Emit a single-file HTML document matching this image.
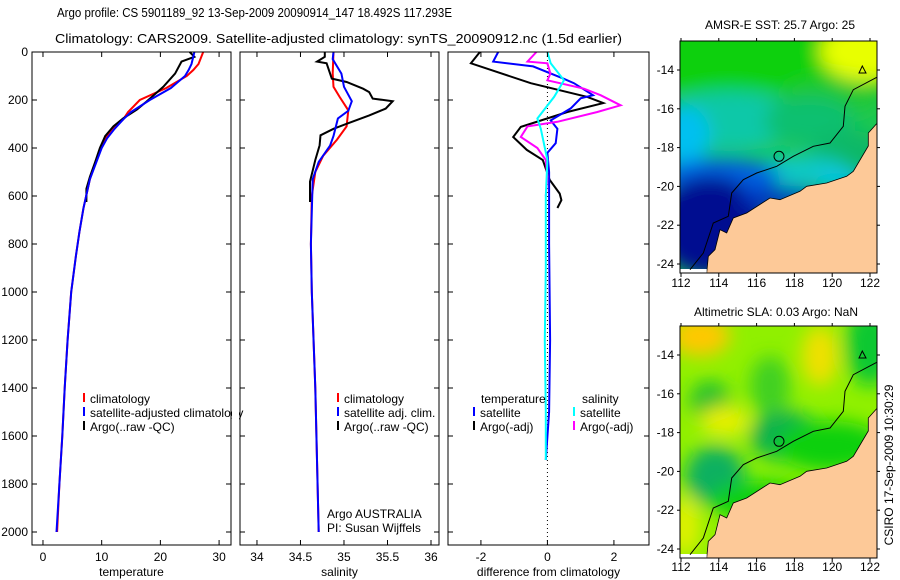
<!DOCTYPE html>
<html><head><meta charset="utf-8"><style>
html,body{margin:0;padding:0;background:#fff;}
svg{display:block;font-family:"Liberation Sans",sans-serif;}
</style></head><body>
<svg id="fig" width="900" height="580" viewBox="0 0 900 580" xmlns="http://www.w3.org/2000/svg">
<defs>
<filter id="blur" x="-50%" y="-50%" width="200%" height="200%"><feGaussianBlur stdDeviation="9"/></filter>
<clipPath id="mapclip"><rect x="0" y="0" width="197" height="232"/></clipPath>
</defs>
<text x="57" y="17" font-size="13" textLength="395" lengthAdjust="spacingAndGlyphs">Argo profile: CS 5901189_92 13-Sep-2009 20090914_147 18.492S 117.293E</text>
<text x="55" y="43" font-size="13" textLength="567" lengthAdjust="spacingAndGlyphs">Climatology: CARS2009. Satellite-adjusted climatology: synTS_20090912.nc (1.5d earlier)</text>
<g id="plots"></g>

<!-- SST map -->
<g transform="translate(680,41)">
  <g clip-path="url(#mapclip)">
    <rect width="197" height="232" fill="#1ec850"/>
    <g filter="url(#blur)">
      <rect x="-20" y="-20" width="240" height="70" fill="#10d010"/>
      <ellipse cx="185" cy="10" rx="45" ry="30" fill="#e8ff00"/>
      <ellipse cx="150" cy="55" rx="50" ry="18" fill="#20c830"/>
      <ellipse cx="50" cy="80" rx="70" ry="30" fill="#10c8a8"/>
      <ellipse cx="5" cy="95" rx="25" ry="30" fill="#00c0f0"/>
      <ellipse cx="130" cy="80" rx="45" ry="25" fill="#10c070"/>
      <ellipse cx="170" cy="115" rx="40" ry="25" fill="#10b868"/>
      <ellipse cx="120" cy="130" rx="50" ry="15" fill="#10c8c8"/>
      <ellipse cx="40" cy="135" rx="60" ry="18" fill="#0060e0"/>
      <ellipse cx="30" cy="185" rx="55" ry="50" fill="#000a90"/>
      <ellipse cx="100" cy="158" rx="40" ry="12" fill="#0030c0"/>
      <ellipse cx="160" cy="140" rx="25" ry="8" fill="#00c0f0"/>
    </g>
    <polygon fill="#fdc998" points="197.3,82 188.3,92 188.3,105 180,119 173.3,130.3 166.7,135.3 146.7,142 126.7,145.3 120,150.3 100,158.7 90,157 66.7,172 53.3,177 46.7,192 40,188.7 35,208.7 28.3,215.3 26.7,232 197,232" stroke="#000" stroke-width="0.8"/>
    <rect x="0" y="228" width="26.7" height="4" fill="#fff"/>
    <polyline fill="none" stroke="#000" stroke-width="1" points="197.3,36 173.3,48.7 165,65.3 163.3,85.3 150,102 133.3,105.3 113.3,115.3 96.7,125.3 76.7,132 63.3,138.7 51.7,152 48.3,175.3 33.3,182 23.3,212 10,228.7"/>
    <circle cx="99" cy="115.3" r="5" fill="none" stroke="#000"/>
    <polygon points="182.3,25 179,32 186,32" fill="none" stroke="#000"/>
  </g>
  <rect width="197" height="232" fill="none" stroke="#000"/>
</g>
<text x="780" y="29" font-size="12" text-anchor="middle">AMSR-E SST: 25.7 Argo: 25</text>

<!-- SLA map -->
<g transform="translate(680,326)">
  <g clip-path="url(#mapclip)">
    <rect width="197" height="232" fill="#90f000"/>
    <g filter="url(#blur)">
      <ellipse cx="20" cy="10" rx="30" ry="20" fill="#ffc800"/>
      <ellipse cx="140" cy="30" rx="18" ry="30" fill="#f0e000"/>
      <ellipse cx="190" cy="20" rx="25" ry="40" fill="#10c830"/>
      <ellipse cx="30" cy="75" rx="20" ry="20" fill="#20c030"/>
      <ellipse cx="90" cy="60" rx="20" ry="30" fill="#40d020"/>
      <ellipse cx="105" cy="110" rx="35" ry="25" fill="#10b050"/>
      <ellipse cx="35" cy="150" rx="30" ry="30" fill="#10b060"/>
      <ellipse cx="45" cy="95" rx="25" ry="15" fill="#e8f000"/>
      <ellipse cx="150" cy="120" rx="55" ry="25" fill="#10d010"/>
      <ellipse cx="80" cy="175" rx="50" ry="20" fill="#10d010"/>
      <ellipse cx="5" cy="200" rx="15" ry="30" fill="#e0f000"/>
    </g>
    <polygon fill="#fdc998" points="197.3,82 188.3,92 188.3,105 180,119 173.3,130.3 166.7,135.3 146.7,142 126.7,145.3 120,150.3 100,158.7 90,157 66.7,172 53.3,177 46.7,192 40,188.7 35,208.7 28.3,215.3 26.7,232 197,232" stroke="#000" stroke-width="0.8"/>
    <rect x="0" y="228" width="26.7" height="4" fill="#fff"/>
    <polyline fill="none" stroke="#000" stroke-width="1" points="197.3,36 173.3,48.7 165,65.3 163.3,85.3 150,102 133.3,105.3 113.3,115.3 96.7,125.3 76.7,132 63.3,138.7 51.7,152 48.3,175.3 33.3,182 23.3,212 10,228.7"/>
    <circle cx="99" cy="115.3" r="5" fill="none" stroke="#000"/>
    <polygon points="182.3,25 179,32 186,32" fill="none" stroke="#000"/>
  </g>
  <rect width="197" height="232" fill="none" stroke="#000"/>
</g>
<text x="776" y="316" font-size="12" text-anchor="middle">Altimetric SLA: 0.03 Argo: NaN</text>
<text transform="translate(893,465) rotate(-90)" font-size="12" text-anchor="middle">CSIRO 17-Sep-2009 10:30:29</text>
<g id="mapaxes"></g>
</svg>
<script>
const NS="http://www.w3.org/2000/svg";
// ---- data ----
const tClimDepth=[0,50,75,100,150,200,250,280,320,360,400,530,650,750,850,1000,1200,1400,1600,1800,2000];
const tClim=[27.3,26.5,25.6,24.5,21,16.5,14.5,13.7,11.8,10.6,9.8,8,6.9,6.2,5.6,4.8,4.2,3.7,3.3,2.8,2.4];
const tSat=[25.8,25.3,24.8,24.2,21.8,18.2,15,13.7,12.2,10.9,10,8,6.9,6.2,5.6,4.8,4.2,3.7,3.3,2.8,2.3];
const tArgoDepth=[0,20,40,90,145,205,240,276,310,350,400,458,520,570,625];
const tArgo=[25,25.8,23.6,22.5,20.5,17.7,16,13.7,12,10.6,9.7,8.9,8,7.4,7.4];
const sClimDepth=[0,90,145,187,243,310,365,433,500,600,800,1000,1400,1700,2000];
const sClim=[34.88,34.87,34.88,34.95,35.05,35.03,34.92,34.76,34.67,34.63,34.62,34.63,34.67,34.69,34.71];
const sSatDepth=[0,30,90,145,205,245,277,320,350,390,458,530,800,1000,1400,1700,2000];
const sSat=[34.88,34.87,34.97,35.0,35.09,35.05,34.93,34.9,34.88,34.84,34.71,34.64,34.62,34.63,34.67,34.69,34.71];
const sArgoDepth=[0,20,40,47,111,125,153,167,194,205,236,264,299,320,347,389,450,540,625];
const sArgo=[34.78,34.78,34.69,34.8,34.86,35.03,35.22,35.29,35.33,35.56,35.48,35.29,35.03,34.88,34.73,34.72,34.67,34.61,34.61];
const dTArgoDepth=[0,47,130,187,213,250,312,354,408,450,533,590,617,650];
const dTArgo=[-2.03,-2.3,-0.5,1.2,1.68,0.6,-0.8,-1.03,-0.62,-0.14,0.07,0.37,0.42,0.3];
const dTSatDepth=[0,40,60,110,130,180,193,235,285,320,380,420,500,800,1200,1500,1700];
const dTSat=[-1.48,-1.63,-0.43,0.47,0.8,1.37,1.0,0.7,0.1,0.3,0.25,0.0,0.05,0.05,0.08,0.05,-0.05];
const dSArgoDepth=[0,40,47,90,118,153,180,222,250,291,310,354,400,450,520,600];
const dSArgo=[-0.33,-0.6,0,0.09,0,1.1,1.6,2.2,1.5,0.3,-0.6,-0.8,-0.3,-0.05,0,-0.05];
const dSSatDepth=[0,47,118,187,277,320,450,600,900,1200,1500,1700];
const dSSat=[0,0.1,0.5,0.2,-0.3,-0.2,0,-0.05,-0.05,-0.08,-0.05,-0.05];
const depthTicks=[0,200,400,600,800,1000,1200,1400,1600,1800,2000];
const tTicks=[0,10,20,30];
const sTicks=[34,34.5,35,35.5,36];
const dTicks=[-2,0,2];
const lonTicks=[112,114,116,118,120,122];
const latTicks=[-14,-16,-18,-20,-22,-24];

const plots=document.getElementById('plots');
function el(tag,attrs,parent){const e=document.createElementNS(NS,tag);for(const k in attrs)e.setAttribute(k,attrs[k]);(parent||plots).appendChild(e);return e;}
function makePanel(x0,x1,xmin,xmax){
  return {x0,x1,y0:52,y1:545,xmin,xmax,
    sx:v=>x0+(v-xmin)/(xmax-xmin)*(x1-x0),
    sy:d=>52+d*0.24};
}
const P1=makePanel(32,231,-1.87,32.03);
const P2=makePanel(240,439,33.805,36.092);
const P3=makePanel(448,649,-2.99,3.055);

function axes(P,ticks,fmt,label,name,showY){
  const g=el('g',{});
  
  
  ticks.forEach(t=>{const x=P.sx(t);
    el('line',{x1:x,x2:x,y1:P.y1,y2:P.y1-5,stroke:'#000'},g);
    el('line',{x1:x,x2:x,y1:P.y0,y2:P.y0+5,stroke:'#000'},g);
    const tx=el('text',{x:x,y:P.y1+16,'font-size':12,'text-anchor':'middle'},g);tx.textContent=fmt(t);
    
    
  });
  depthTicks.forEach(d=>{const y=P.sy(d);
    el('line',{x1:P.x0,x2:P.x0+5,y1:y,y2:y,stroke:'#000'},g);
    el('line',{x1:P.x1,x2:P.x1-5,y1:y,y2:y,stroke:'#000'},g);
    if(showY){const tx=el('text',{x:P.x0-4,y:y+4,'font-size':12,'text-anchor':'end'},g);tx.textContent=d;
      
      }
  });
  const lt=el('text',{x:(P.x0+P.x1)/2,y:576,'font-size':12,'text-anchor':'middle'},g);lt.textContent=label;
  
  
}
function frame(P,name){const r=el('rect',{x:P.x0,y:P.y0,width:P.x1-P.x0,height:P.y1-P.y0,fill:'none',stroke:'#000'});
  
  }
function series(P,depths,vals,color,name){
  const pts=depths.map((d,i)=>P.sx(vals[i]).toFixed(1)+','+P.sy(d).toFixed(1)).join(' ');
  const l=el('polyline',{points:pts,fill:'none',stroke:color,'stroke-width':2,'stroke-linejoin':'miter'});
  
  
}
function legend(x,y,color,text,name){
  el('line',{x1:x,x2:x,y1:y-10,y2:y-1,stroke:color,'stroke-width':2});
  const t=el('text',{x:x+6,y:y,'font-size':12});t.textContent=text;
  
  
}
// panel 1
series(P1,tClimDepth,tClim,'#f00','temperature-climatology-line');
series(P1,tArgoDepth,tArgo,'#000','temperature-argo-line');
series(P1,tClimDepth,tSat,'#00f','temperature-satellite-line');
frame(P1,'temperature-panel');
axes(P1,tTicks,v=>v,'temperature','temperature',true);
legend(84,403,'#f00','climatology','legend-climatology');
legend(84,417,'#00f','satellite-adjusted climatology','legend-satellite-adjusted');
legend(84,431,'#000','Argo(..raw -QC)','legend-argo');
el('rect',{x:232,y:380,width:7,height:60,fill:'#fff'});
// panel 2
series(P2,sClimDepth,sClim,'#f00','salinity-climatology-line');
series(P2,sArgoDepth,sArgo,'#000','salinity-argo-line');
series(P2,sSatDepth,sSat,'#00f','salinity-satellite-line');
frame(P2,'salinity-panel');
axes(P2,sTicks,v=>v,'salinity','salinity',false);
legend(338,403,'#f00','climatology','legend-sal-climatology');
legend(338,417,'#00f','satellite adj. clim.','legend-sal-satellite');
legend(338,431,'#000','Argo(..raw -QC)','legend-sal-argo');
const a1=el('text',{x:327,y:518,'font-size':12});a1.textContent='Argo AUSTRALIA';


const a2=el('text',{x:327,y:532,'font-size':12});a2.textContent='PI: Susan Wijffels';


// panel 3
el('line',{x1:P3.sx(0),x2:P3.sx(0),y1:P3.y0,y2:P3.y1,stroke:'#000','stroke-dasharray':'1,3'});
series(P3,dTArgoDepth,dTArgo,'#000','diff-temperature-argo-line');
series(P3,dTSatDepth,dTSat,'#00f','diff-temperature-satellite-line');
series(P3,dSArgoDepth,dSArgo,'#f0f','diff-salinity-argo-line');
series(P3,dSSatDepth,dSSat,'#0ff','diff-salinity-satellite-line');
frame(P3,'difference-panel');
axes(P3,dTicks,v=>v,'difference from climatology','difference',false);
const lh1=el('text',{x:481,y:403,'font-size':12});lh1.textContent='temperature';


const lh2=el('text',{x:582,y:403,'font-size':12});lh2.textContent='salinity';


legend(474,417,'#00f','satellite','legend-diff-t-satellite');
legend(474,431,'#000','Argo(-adj)','legend-diff-t-argo');
legend(574,417,'#0ff','satellite','legend-diff-s-satellite');
legend(574,431,'#f0f','Argo(-adj)','legend-diff-s-argo');
// map axes
const ma=document.getElementById('mapaxes');
[[41,287],[326,571]].forEach(([top,ly])=>{
  lonTicks.forEach(lo=>{const x=681+(lo-112)*18.9;
    el('line',{x1:x,x2:x,y1:top+232,y2:top+236,stroke:'#000'},ma);
    el('line',{x1:x,x2:x,y1:top,y2:top-3,stroke:'#000'},ma);
    const t=el('text',{x:x,y:ly,'font-size':12,'text-anchor':'middle'},ma);t.textContent=lo;
    
    });
  latTicks.forEach(la=>{const y=top+29+(-la-14)*19.4;
    el('line',{x1:677,x2:680,y1:y,y2:y,stroke:'#000'},ma);
    el('line',{x1:877,x2:880,y1:y,y2:y,stroke:'#000'},ma);
    const t=el('text',{x:674,y:y+4,'font-size':12,'text-anchor':'end'},ma);t.textContent=la;
    
    });
});
</script>
</body></html>
